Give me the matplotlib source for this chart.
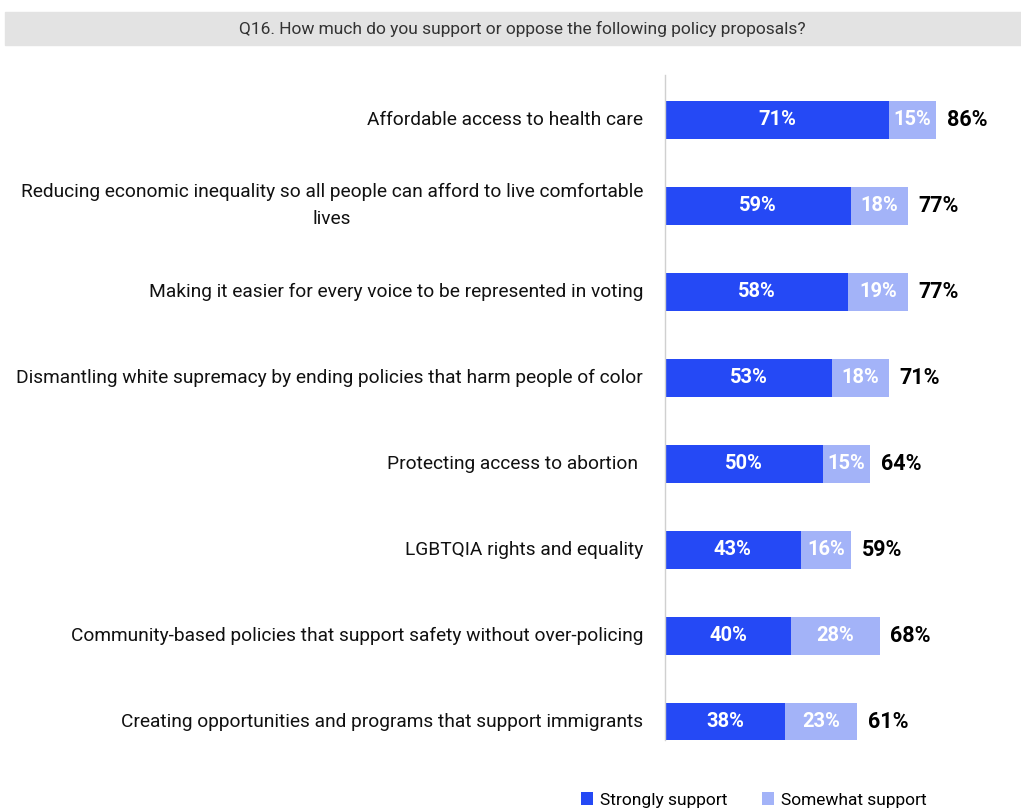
import matplotlib.pyplot as plt
from matplotlib.patches import Rectangle

plt.rcParams['font.family'] = ['Roboto', 'DejaVu Sans']

# Survey data
policies = [
    "Affordable access to health care",
    "Reducing economic inequality so all people can afford to live comfortable\nlives",
    "Making it easier for every voice to be represented in voting",
    "Dismantling white supremacy by ending policies that harm people of color",
    "Protecting access to abortion ",
    "LGBTQIA rights and equality",
    "Community-based policies that support safety without over-policing",
    "Creating opportunities and programs that support immigrants",
]
strongly = [71, 59, 58, 53, 50, 43, 40, 38]
somewhat = [15, 18, 19, 18, 15, 16, 28, 23]
totals = [86, 77, 77, 71, 64, 59, 68, 61]

strong_color = '#2549F5'
some_color = '#A3B3F8'

fig = plt.figure(figsize=(10.21, 8.11), dpi=100)

# grey title band
fig.patches.append(Rectangle((0.005, 1 - 45 / 811), 0.995, 33 / 811,
                             transform=fig.transFigure, color='#E3E3E3', zorder=0))
fig.text(0.512, 1 - 28.5 / 811,
         "Q16. How much do you support or oppose the following policy proposals?",
         ha='center', va='center', fontsize=12.5, color='#333333')

ax = fig.add_axes([665 / 1021, 1 - 740 / 811, 315.5 / 1021, 665 / 811])

y = list(range(len(policies)))
ax.barh(y, strongly, height=0.44, color=strong_color, label='Strongly support')
ax.barh(y, somewhat, left=strongly, height=0.44, color=some_color, label='Somewhat support')

for i in y:
    ax.text(strongly[i] / 2, i, f"{strongly[i]}%", ha='center', va='center',
            color='white', fontsize=14.5, fontweight='semibold')
    ax.text(strongly[i] + somewhat[i] / 2, i, f"{somewhat[i]}%", ha='center', va='center',
            color='white', fontsize=14.5, fontweight='semibold')
    ax.text(strongly[i] + somewhat[i] + 3.4, i, f"{totals[i]}%", ha='left', va='center',
            color='black', fontsize=15.5, fontweight='semibold')
    ax.text(-7, i, policies[i], ha='right', va='center', multialignment='center',
            fontsize=13.8, color='#111111', linespacing=1.65)

ax.set_xlim(0, 100)
ax.set_ylim(7.21, -0.52)
ax.set_xticks([])
ax.set_yticks([])
for side in ['top', 'right', 'bottom']:
    ax.spines[side].set_visible(False)
ax.spines['left'].set_color('#D0D0D0')
ax.spines['left'].set_linewidth(1)

fig.legend(loc='center', bbox_to_anchor=(0.738, 1 - 800 / 811), ncol=2,
           frameon=False, handlelength=0.7, handleheight=0.7, handletextpad=0.4,
           columnspacing=2.0, prop={'size': 12.5})

fig.savefig('out.png', dpi=100)
